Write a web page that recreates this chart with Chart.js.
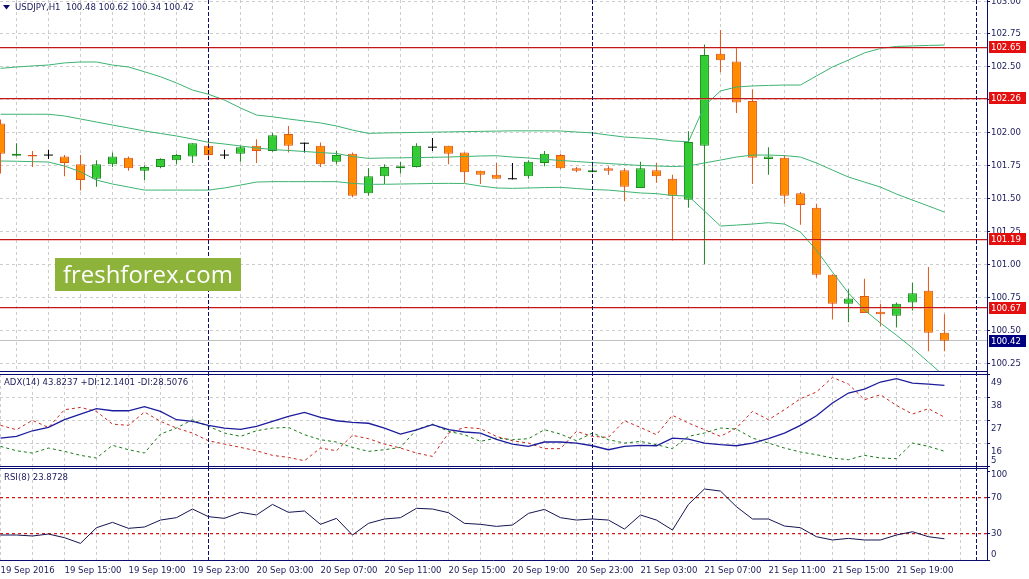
<!DOCTYPE html>
<html>
<head>
<meta charset="utf-8">
<title>USDJPY,H1</title>
<script src="https://cdn.jsdelivr.net/npm/chart.js@4.4.1/dist/chart.umd.min.js"></script>
<style>
  html, body { margin: 0; padding: 0; background: #fff; }
  body { width: 1029px; height: 579px; position: relative; overflow: hidden; }
  .pane { position: absolute; left: 0; width: 1029px; }
</style>
</head>
<body>
<div class="pane" style="top:0;height:372px"><canvas id="priceChart"></canvas></div>
<div class="pane" style="top:372px;height:95px"><canvas id="adxChart"></canvas></div>
<div class="pane" style="top:467px;height:112px"><canvas id="rsiChart"></canvas></div>
<script>
// ---- data (one entry per H1 bar, 19 Sep 11:00 .. 21 Sep 22:00) ----
const symbol = 'USDJPY,H1';
const timeLabels = ['19 Sep 2016', '19 Sep 15:00', '19 Sep 19:00', '19 Sep 23:00', '20 Sep 03:00',
  '20 Sep 07:00', '20 Sep 11:00', '20 Sep 15:00', '20 Sep 19:00', '20 Sep 23:00', '21 Sep 03:00',
  '21 Sep 07:00', '21 Sep 11:00', '21 Sep 15:00', '21 Sep 19:00'];

const opens = [102.07, 101.825, 101.83, 101.83, 101.82, 101.76, 101.65, 101.76, 101.81, 101.71,
  101.74, 101.79, 101.82, 101.90, 101.83, 101.84, 101.90, 101.86, 101.99, 101.92,
  101.90, 101.78, 101.84, 101.54, 101.67, 101.73, 101.74, 101.89, 101.90, 101.85,
  101.71, 101.68, 101.65, 101.67, 101.77, 101.83, 101.73, 101.70, 101.73, 101.715,
  101.58, 101.715, 101.65, 101.49, 101.90, 102.60, 102.54, 102.24, 101.80, 101.81,
  101.54, 101.43, 100.92, 100.70, 100.76, 100.64, 100.61, 100.71, 100.80, 100.48];
const highs = [102.10, 101.92, 101.86, 101.87, 101.83, 101.83, 101.79, 101.85, 101.82, 101.75,
  101.805, 101.84, 101.92, 101.93, 101.87, 101.90, 101.95, 102.00, 102.05, 101.925,
  101.925, 101.86, 101.85, 101.73, 101.76, 101.78, 101.92, 101.96, 101.90, 101.85,
  101.71, 101.77, 101.77, 101.79, 101.86, 101.84, 101.74, 101.78, 101.745, 101.73,
  101.78, 101.77, 101.68, 102.01, 102.67, 102.78, 102.65, 102.33, 101.89, 101.83,
  101.55, 101.46, 100.925, 100.81, 100.89, 100.70, 100.71, 100.86, 100.98, 100.62];
const lows = [101.69, 101.82, 101.74, 101.80, 101.67, 101.56, 101.59, 101.74, 101.71, 101.64,
  101.73, 101.76, 101.77, 101.79, 101.80, 101.78, 101.77, 101.855, 101.85, 101.85,
  101.74, 101.76, 101.51, 101.52, 101.61, 101.69, 101.735, 101.86, 101.76, 101.62,
  101.61, 101.65, 101.645, 101.65, 101.745, 101.725, 101.70, 101.70, 101.68, 101.48,
  101.58, 101.62, 101.18, 101.43, 101.00, 102.46, 102.15, 101.61, 101.68, 101.46,
  101.30, 100.90, 100.58, 100.56, 100.63, 100.53, 100.52, 100.65, 100.34, 100.34];
const closes = [101.84, 101.84, 101.82, 101.83, 101.77, 101.64, 101.76, 101.82, 101.73, 101.74,
  101.80, 101.83, 101.92, 101.83, 101.83, 101.89, 101.86, 101.98, 101.90, 101.92,
  101.76, 101.83, 101.52, 101.67, 101.74, 101.745, 101.90, 101.89, 101.84, 101.70,
  101.68, 101.65, 101.65, 101.78, 101.84, 101.73, 101.71, 101.715, 101.71, 101.59,
  101.73, 101.67, 101.52, 101.93, 102.59, 102.55, 102.23, 101.81, 101.82, 101.52,
  101.45, 100.92, 100.70, 100.74, 100.63, 100.62, 100.70, 100.78, 100.48, 100.42];

const bbUpper = [102.489, 102.499, 102.507, 102.514, 102.530, 102.537, 102.537, 102.514, 102.499, 102.463,
  102.425, 102.378, 102.324, 102.292, 102.248, 102.188, 102.134, 102.121, 102.104, 102.089,
  102.074, 102.051, 102.020, 101.995, 101.998, 102.000, 102.002, 102.004, 102.006, 102.008,
  102.010, 102.012, 102.014, 102.014, 102.014, 102.013, 102.005, 101.998, 101.982, 101.967,
  101.960, 101.952, 101.937, 101.931, 102.203, 102.317, 102.347, 102.355, 102.359, 102.362,
  102.362, 102.431, 102.499, 102.552, 102.606, 102.640, 102.655, 102.659, 102.663, 102.666];
const bbMiddle = [102.140, 102.140, 102.140, 102.140, 102.127, 102.104, 102.081, 102.058, 102.036, 102.013,
  101.994, 101.975, 101.952, 101.927, 101.914, 101.899, 101.884, 101.872, 101.865, 101.857,
  101.849, 101.842, 101.819, 101.805, 101.808, 101.809, 101.811, 101.813, 101.815, 101.819,
  101.823, 101.825, 101.815, 101.808, 101.798, 101.789, 101.781, 101.773, 101.766, 101.758,
  101.751, 101.747, 101.743, 101.747, 101.770, 101.792, 101.815, 101.830, 101.830, 101.826,
  101.815, 101.770, 101.716, 101.663, 101.625, 101.587, 101.534, 101.488, 101.443, 101.397];
const bbLower = [101.785, 101.783, 101.780, 101.777, 101.747, 101.703, 101.640, 101.610, 101.587, 101.564,
  101.564, 101.564, 101.564, 101.564, 101.580, 101.602, 101.625, 101.628, 101.628, 101.628,
  101.628, 101.628, 101.615, 101.608, 101.608, 101.610, 101.612, 101.614, 101.615, 101.614,
  101.595, 101.580, 101.577, 101.580, 101.583, 101.585, 101.576, 101.568, 101.564, 101.553,
  101.542, 101.537, 101.523, 101.519, 101.405, 101.291, 101.298, 101.306, 101.316, 101.306,
  101.245, 101.108, 100.941, 100.782, 100.652, 100.554, 100.462, 100.364, 100.257, 100.151];

const adx = [18.5, 19.3, 22.0, 23.6, 27.3, 30.0, 32.6, 31.6, 31.6, 33.6,
  31.3, 27.3, 26.5, 24.6, 23.3, 22.7, 24.1, 26.5, 28.9, 30.8,
  28.4, 26.8, 26.0, 25.6, 23.3, 20.4, 22.4, 24.9, 22.5, 21.4,
  20.9, 17.9, 15.6, 14.5, 16.6, 16.6, 16.1, 14.8, 12.9, 14.5,
  15.0, 14.8, 18.5, 18.0, 16.1, 15.3, 14.8, 16.1, 18.2, 20.9,
  24.6, 29.2, 35.3, 40.1, 42.0, 45.4, 47.0, 44.9, 44.4, 43.82];
const plusDI = [14.5, 12.4, 11.3, 13.7, 12.1, 10.2, 8.9, 15.0, 12.9, 11.3,
  20.4, 23.3, 27.3, 24.1, 20.9, 19.3, 22.0, 23.3, 23.6, 20.1,
  17.7, 16.6, 14.0, 12.1, 12.9, 14.0, 22.5, 25.2, 21.7, 20.1,
  16.9, 18.5, 17.7, 18.2, 22.5, 20.4, 17.2, 20.9, 17.7, 16.1,
  16.9, 15.3, 13.4, 19.3, 20.9, 23.3, 22.8, 18.5, 16.1, 13.7,
  11.8, 10.5, 8.9, 8.1, 10.2, 8.9, 8.6, 16.1, 14.5, 12.14];
const minusDI = [24.6, 22.5, 27.0, 23.6, 32.1, 33.2, 31.3, 25.2, 24.6, 31.0,
  26.5, 23.3, 20.9, 17.2, 15.6, 14.0, 12.4, 10.2, 9.2, 7.6,
  13.7, 12.4, 19.8, 18.2, 15.6, 13.7, 11.3, 9.7, 20.9, 23.6,
  23.0, 19.3, 17.2, 16.1, 13.4, 13.4, 21.7, 19.3, 18.8, 26.8,
  23.6, 20.1, 29.4, 25.7, 22.5, 19.3, 23.3, 31.3, 27.3, 32.1,
  37.4, 40.6, 47.6, 44.4, 36.9, 39.3, 34.2, 30.0, 32.6, 28.51];
const rsi = [28.1, 28.1, 27.0, 29.2, 25.1, 18.7, 36.3, 42.3, 35.6, 37.1,
  44.9, 47.6, 57.3, 48.7, 46.8, 53.6, 50.6, 62.5, 53.6, 55.1,
  40.1, 46.8, 28.1, 41.2, 46.1, 47.6, 58.1, 57.3, 53.2, 41.2,
  40.1, 37.8, 39.3, 52.4, 56.9, 47.6, 44.9, 46.1, 44.9, 34.8,
  50.6, 44.9, 33.7, 62.5, 79.8, 77.5, 59.9, 46.1, 46.1, 38.2,
  36.3, 26.2, 22.5, 24.3, 22.5, 22.5, 28.1, 31.8, 26.2, 23.87];

const levels = [102.65, 102.26, 101.19, 100.67];
const adxTicks = [49, 38, 27, 16, 5];
const rsiTicks = [100, 70, 30, 0];
const rsiLevels = [70, 30];
const separatorBars = [13, 37];
const shiftBar = 61;
const adxCaption = 'ADX(14) 43.8237 +DI:12.1401 -DI:28.5076';
const rsiCaption = 'RSI(8) 23.8728';

// ---- look ----
const FONT = "'DejaVu Sans Condensed', 'Liberation Sans', sans-serif";
const FSIZE = 9.5;
const TEXT = '#1b1b5c';
const AXIS = '#0c0c70';
const GRID = '#cccccc';
const BULL_FILL = '#32cd32', BULL_EDGE = '#1c8a1c';
const BEAR_FILL = '#ff8c00', BEAR_EDGE = '#e2561a';
const BAND = '#3cb371';
const LEVEL = '#c01818';
const LEVEL_GLOW = 'rgba(235, 120, 120, 0.45)';
const X_MIN = -0.03, X_MAX = 61.66;

const last = closes.length - 1;
const bars = closes.map((c, i) => i);
const font = `${FSIZE}px ${FONT}`;

function candleEdge(i) {
  if (closes[i] > opens[i]) return BULL_EDGE;
  if (closes[i] < opens[i]) return BEAR_EDGE;
  return '#000000';
}

function fitRight(s) { s.width = 42; s.paddingTop = 0; s.paddingBottom = 0; }

function xAxis(showLabels) {
  return {
    type: 'linear', min: X_MIN, max: X_MAX, offset: false,
    grid: { color: GRID, drawTicks: false },
    border: { display: false, dash: [3, 3] },
    ticks: {
      display: showLabels, stepSize: 2, includeBounds: false, autoSkip: false,
      maxRotation: 0, align: 'start', padding: 4, color: TEXT,
      font: { family: FONT, size: FSIZE },
      callback: v => (v % 4 === 0 && timeLabels[v / 4]) ? timeLabels[v / 4] : ''
    },
    afterFit: s => { s.height = showLabels ? 18 : 0; s.paddingLeft = 0; s.paddingRight = 0; }
  };
}

function hline(ctx, a, py, color, dash) {
  ctx.save();
  ctx.strokeStyle = color; ctx.lineWidth = 1; ctx.setLineDash(dash || []);
  ctx.beginPath(); ctx.moveTo(a.left, py); ctx.lineTo(a.right, py); ctx.stroke();
  ctx.restore();
}

// separators, frame and side labels shared by all three panes
const frame = {
  id: 'frame',
  afterDatasetsDraw(chart) {
    const { ctx, chartArea: a, scales: { x } } = chart;
    ctx.save();
    ctx.strokeStyle = AXIS; ctx.lineWidth = 1; ctx.setLineDash([4, 2]);
    separatorBars.concat([shiftBar]).forEach(b => {
      const px = Math.floor(x.getPixelForValue(b)) + 0.5;
      ctx.beginPath(); ctx.moveTo(px, 0); ctx.lineTo(px, a.bottom); ctx.stroke();
    });
    ctx.restore();
  },
  afterDraw(chart, args, o) {
    const { ctx, chartArea: a, scales: { y } } = chart;
    ctx.save();
    ctx.strokeStyle = AXIS; ctx.lineWidth = 1;
    const rx = Math.round(a.right) + 0.5;
    ctx.beginPath(); ctx.moveTo(rx, 0); ctx.lineTo(rx, a.bottom); ctx.stroke();
    ctx.beginPath(); ctx.moveTo(0, a.bottom - 0.5); ctx.lineTo(rx, a.bottom - 0.5); ctx.stroke();
    if (o.top) { ctx.beginPath(); ctx.moveTo(0, a.top + 0.5); ctx.lineTo(rx, a.top + 0.5); ctx.stroke(); }
    ctx.font = font; ctx.fillStyle = TEXT; ctx.textBaseline = 'middle'; ctx.textAlign = 'left';
    if (o.caption) ctx.fillText(o.caption, 4, a.top + o.captionY);
    if (o.sideLabels) {
      y.ticks.forEach(t => {
        let py = y.getPixelForValue(t.value) + o.shift;
        py = Math.min(Math.max(py, a.top + 7), a.bottom - 6);
        ctx.fillText(String(t.value), a.right + 4, py);
      });
    }
    ctx.restore();
  }
};

const priceDecor = {
  id: 'priceDecor',
  beforeDatasetsDraw(chart) {
    const { ctx, chartArea: a, scales: { y } } = chart;
    hline(ctx, a, Math.floor(y.getPixelForValue(closes[last])) + 0.5, '#c0c0c0');
  },
  afterDatasetsDraw(chart) {
    const { ctx, chartArea: a, scales: { y } } = chart;
    levels.forEach(v => {
      const py = Math.floor(y.getPixelForValue(v)) + 0.5;
      hline(ctx, a, py + 1, LEVEL_GLOW);
      hline(ctx, a, py, LEVEL);
    });
  },
  afterDraw(chart) {
    const { ctx, chartArea: a, scales: { y } } = chart;
    ctx.save();
    ctx.font = font; ctx.textBaseline = 'middle'; ctx.textAlign = 'left';
    const tag = (v, fill) => {
      const py = y.getPixelForValue(v);
      ctx.fillStyle = fill;
      ctx.fillRect(a.right + 2, Math.round(py) - 6, 37, 12);
      ctx.fillStyle = '#ffffff';
      ctx.fillText(v.toFixed(2), a.right + 4, py + 0.5);
    };
    levels.forEach(v => tag(v, '#e41010'));
    tag(closes[last], '#000080');

    // title
    ctx.fillStyle = AXIS;
    ctx.beginPath(); ctx.moveTo(3, 5); ctx.lineTo(10, 5); ctx.lineTo(6.5, 9.5); ctx.closePath(); ctx.fill();
    ctx.fillStyle = TEXT;
    const ohlc = [opens[last], highs[last], lows[last], closes[last]].map(v => v.toFixed(2)).join(' ');
    ctx.fillText(symbol + '  ' + ohlc, 15, 7.5);

    // watermark
    ctx.fillStyle = '#8db33a';
    ctx.fillRect(55, 258, 186, 33);
    const wm = 'freshforex.com';
    let size = 26;
    ctx.font = `${size}px 'Open Sans', sans-serif`;
    size = size * 170 / ctx.measureText(wm).width;
    ctx.font = `${size}px 'Open Sans', sans-serif`;
    ctx.fillStyle = '#ffffff'; ctx.textBaseline = 'alphabetic';
    ctx.fillText(wm, 63, 283);
    ctx.restore();
  }
};

const rsiDecor = {
  id: 'rsiDecor',
  beforeDatasetsDraw(chart) {
    const { ctx, chartArea: a, scales: { y } } = chart;
    rsiLevels.forEach(v => {
      const py = Math.floor(y.getPixelForValue(v)) + 0.5;
      hline(ctx, a, py + 1, LEVEL_GLOW, [3, 3]);
      hline(ctx, a, py, '#cc1a1a', [3, 3]);
    });
  }
};

const common = {
  responsive: true, maintainAspectRatio: false, animation: false, events: [],
  devicePixelRatio: 1
};

new Chart(document.getElementById('priceChart'), {
  type: 'line',
  data: {
    datasets: [
      { label: 'BB upper', data: bars.map(i => ({ x: i, y: bbUpper[i] })), borderColor: BAND, borderWidth: 1, pointRadius: 0, order: 1 },
      { label: 'BB middle', data: bars.map(i => ({ x: i, y: bbMiddle[i] })), borderColor: BAND, borderWidth: 1, pointRadius: 0, order: 1 },
      { label: 'BB lower', data: bars.map(i => ({ x: i, y: bbLower[i] })), borderColor: BAND, borderWidth: 1, pointRadius: 0, order: 1 },
      {
        label: 'doji', data: bars.filter(i => opens[i] === closes[i]).map(i => ({ x: i, y: opens[i] })),
        showLine: false, pointStyle: 'line', pointRadius: 4.5, pointBorderColor: '#000000', pointBorderWidth: 1, order: 2
      },
      {
        type: 'bar', label: 'body',
        data: bars.filter(i => opens[i] !== closes[i]).map(i => ({ x: i, y: [opens[i], closes[i]] })),
        barThickness: 9, grouped: false, borderSkipped: false, borderWidth: 1, inflateAmount: 0,
        backgroundColor: c => closes[c.raw.x] > opens[c.raw.x] ? BULL_FILL : BEAR_FILL,
        borderColor: c => candleEdge(c.raw.x), order: 3
      },
      {
        type: 'bar', label: 'wick', data: bars.map(i => ({ x: i, y: [lows[i], highs[i]] })),
        barThickness: 1, grouped: false, borderWidth: 0, inflateAmount: 0,
        backgroundColor: c => candleEdge(c.raw.x), order: 4
      }
    ]
  },
  options: Object.assign({}, common, {
    layout: { padding: 0, autoPadding: false },
    plugins: { legend: { display: false }, tooltip: { enabled: false }, frame: { top: false } },
    scales: {
      x: xAxis(false),
      y: {
        position: 'right', min: 100.182, max: 103.008,
        grid: { color: GRID, tickLength: 3, tickColor: AXIS, tickBorderDash: [] },
        border: { display: false, dash: [3, 3] },
        ticks: {
          stepSize: 0.25, includeBounds: false, padding: 1, color: TEXT,
          font: { family: FONT, size: FSIZE }, callback: v => v.toFixed(2)
        },
        afterFit: fitRight
      }
    }
  }),
  plugins: [priceDecor, frame]
});

new Chart(document.getElementById('adxChart'), {
  type: 'line',
  data: {
    datasets: [
      { label: 'ADX', data: bars.map(i => ({ x: i, y: adx[i] })), borderColor: '#1c1c9c', borderWidth: 1.3, pointRadius: 0 },
      { label: '+DI', data: bars.map(i => ({ x: i, y: plusDI[i] })), borderColor: '#167a16', borderWidth: 1, borderDash: [3, 3], pointRadius: 0 },
      { label: '-DI', data: bars.map(i => ({ x: i, y: minusDI[i] })), borderColor: '#c8281e', borderWidth: 1, borderDash: [3, 3], pointRadius: 0 }
    ]
  },
  options: Object.assign({}, common, {
    layout: { padding: { top: 2, bottom: 0, left: 0, right: 0 }, autoPadding: false },
    plugins: {
      legend: { display: false }, tooltip: { enabled: false },
      frame: { top: true, caption: adxCaption, captionY: 9, sideLabels: true, shift: 8 }
    },
    scales: {
      x: xAxis(false),
      y: {
        position: 'right', min: 4.6, max: 49.25,
        afterBuildTicks: s => { s.ticks = adxTicks.map(v => ({ value: v })); },
        grid: { color: GRID, tickLength: 3, tickColor: AXIS, tickBorderDash: [] },
        border: { display: false, dash: [3, 3] },
        ticks: { display: false },
        afterFit: fitRight
      }
    }
  }),
  plugins: [frame]
});

new Chart(document.getElementById('rsiChart'), {
  type: 'line',
  data: {
    datasets: [
      { label: 'RSI', data: bars.map(i => ({ x: i, y: rsi[i] })), borderColor: '#141450', borderWidth: 1, pointRadius: 0 }
    ]
  },
  options: Object.assign({}, common, {
    layout: { padding: { top: 1, bottom: 0, left: 0, right: 0 }, autoPadding: false },
    plugins: {
      legend: { display: false }, tooltip: { enabled: false },
      frame: { top: true, caption: rsiCaption, captionY: 10, sideLabels: true, shift: 0 }
    },
    scales: {
      x: xAxis(true),
      y: {
        position: 'right', min: -1.1, max: 103.4,
        afterBuildTicks: s => { s.ticks = rsiTicks.map(v => ({ value: v })); },
        grid: { drawOnChartArea: false, tickLength: 3, tickColor: AXIS, tickBorderDash: [] },
        border: { display: false },
        ticks: { display: false },
        afterFit: fitRight
      }
    }
  }),
  plugins: [rsiDecor, frame]
});
</script>
</body>
</html>
